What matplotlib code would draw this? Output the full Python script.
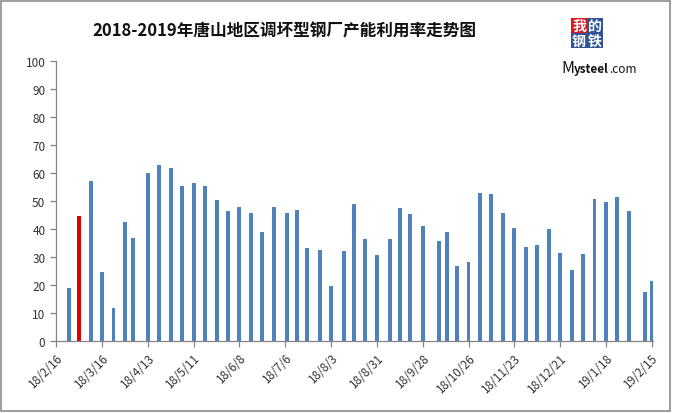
import numpy as np
import pandas as pd
import matplotlib.pyplot as plt
from matplotlib.patches import Rectangle

plt.rcParams['font.family'] = ['Noto Sans CJK SC', 'DejaVu Sans']

# weekly capacity utilisation (%), dates
dates = ['2018-02-24', '2018-03-02', '2018-03-09', '2018-03-16', '2018-03-23', '2018-03-30',
         '2018-04-04', '2018-04-13', '2018-04-20', '2018-04-27', '2018-05-04', '2018-05-11',
         '2018-05-18', '2018-05-25', '2018-06-01', '2018-06-08', '2018-06-15', '2018-06-22',
         '2018-06-29', '2018-07-07', '2018-07-13', '2018-07-19', '2018-07-27', '2018-08-03',
         '2018-08-11', '2018-08-17', '2018-08-24', '2018-08-31', '2018-09-08', '2018-09-14',
         '2018-09-20', '2018-09-28', '2018-10-08', '2018-10-13', '2018-10-19', '2018-10-26',
         '2018-11-02', '2018-11-09', '2018-11-16', '2018-11-23', '2018-11-30', '2018-12-07',
         '2018-12-14', '2018-12-21', '2018-12-28', '2019-01-04', '2019-01-11', '2019-01-18',
         '2019-01-25', '2019-02-01', '2019-02-11', '2019-02-15']
values = [19.1, 44.6, 57.1, 24.7, 11.8, 42.5,
          36.8, 60.0, 63.0, 61.8, 55.4, 56.6,
          55.4, 50.2, 46.4, 47.7, 45.8, 38.8,
          48.0, 45.9, 46.8, 33.1, 32.5, 19.8,
          32.0, 49.1, 36.6, 30.8, 36.6, 47.6,
          45.3, 41.2, 35.8, 38.8, 26.8, 28.3,
          52.7, 52.6, 45.8, 40.5, 33.7, 34.2,
          40.1, 31.5, 25.4, 31.2, 50.9, 49.6,
          51.3, 46.4, 17.6, 21.6]
highlight = '2018-03-02'

tick_dates = pd.date_range('2018-02-16', '2019-02-15', freq='28D')
tick_labels = ['18/2/16', '18/3/16', '18/4/13', '18/5/11', '18/6/8', '18/7/6', '18/8/3',
               '18/8/31', '18/9/28', '18/10/26', '18/11/23', '18/12/21', '19/1/18', '19/2/15']

x = pd.to_datetime(dates)
colors = ['#E00000' if d == highlight else '#4F81BD' for d in dates]

fig = plt.figure(figsize=(6.73, 4.14), dpi=100)
ax = fig.add_axes([0.0829, 0.174, 0.888, 0.676])

ax.bar(x, values, width=2.4, color=colors)

ax.set_ylim(0, 100)
ax.set_yticks(np.arange(0, 101, 10))
ax.set_xlim(pd.Timestamp('2018-02-15 18:00'), pd.Timestamp('2019-02-16'))
ax.set_xticks(tick_dates)
ax.set_xticklabels(tick_labels, rotation=45, ha='right', rotation_mode='anchor')

for s in ['top', 'right']:
    ax.spines[s].set_visible(False)
for s in ['left', 'bottom']:
    ax.spines[s].set_color('#868686')
    ax.spines[s].set_linewidth(0.9)
ax.tick_params(axis='both', colors='#868686', labelcolor='#333333', labelsize=8.5, length=4, width=0.9)
ax.tick_params(axis='x', pad=3)

fig.text(0.423, 0.925, '2018-2019年唐山地区调坏型钢厂产能利用率走势图',
         ha='center', va='center', fontsize=12, fontweight='bold', color='#111111')

# logo
logo = [('我', 0, 0, '#D7191C'), ('的', 1, 0, '#2F5597'), ('钢', 0, 1, '#2F5597'), ('铁', 1, 1, '#2F5597')]
for ch, i, j, c in logo:
    x0 = (571 + i * 16) / 673
    y0 = 1 - (19 + (j + 1) * 15) / 414
    fig.patches.append(Rectangle((x0, y0), 16 / 673, 15 / 414, transform=fig.transFigure,
                                 facecolor=c, edgecolor='none'))
    fig.text(x0 + 8 / 673, y0 + 7.5 / 414, ch, ha='center', va='center', fontsize=10,
             fontweight='bold', color='white')

# "Mysteel.com" placed piece by piece
fig.canvas.draw()
r = fig.canvas.get_renderer()
xpos = 561
for txt, fs, fw in [('M', 11.5, 'normal'), ('ysteel', 8.5, 'bold'), ('.com', 8.5, 'normal')]:
    t = fig.text(xpos / 673, 1 - 73 / 414, txt, ha='left', va='baseline', fontsize=fs,
                 fontweight=fw, color='#111111')
    xpos += t.get_window_extent(r).width + 0.3

# outer frame
fig.patches.append(Rectangle((0.002, 0.004), 0.994, 0.992, transform=fig.transFigure,
                             facecolor='none', edgecolor='#8C8C8C', linewidth=1.2))

fig.savefig('out.png', dpi=100)
